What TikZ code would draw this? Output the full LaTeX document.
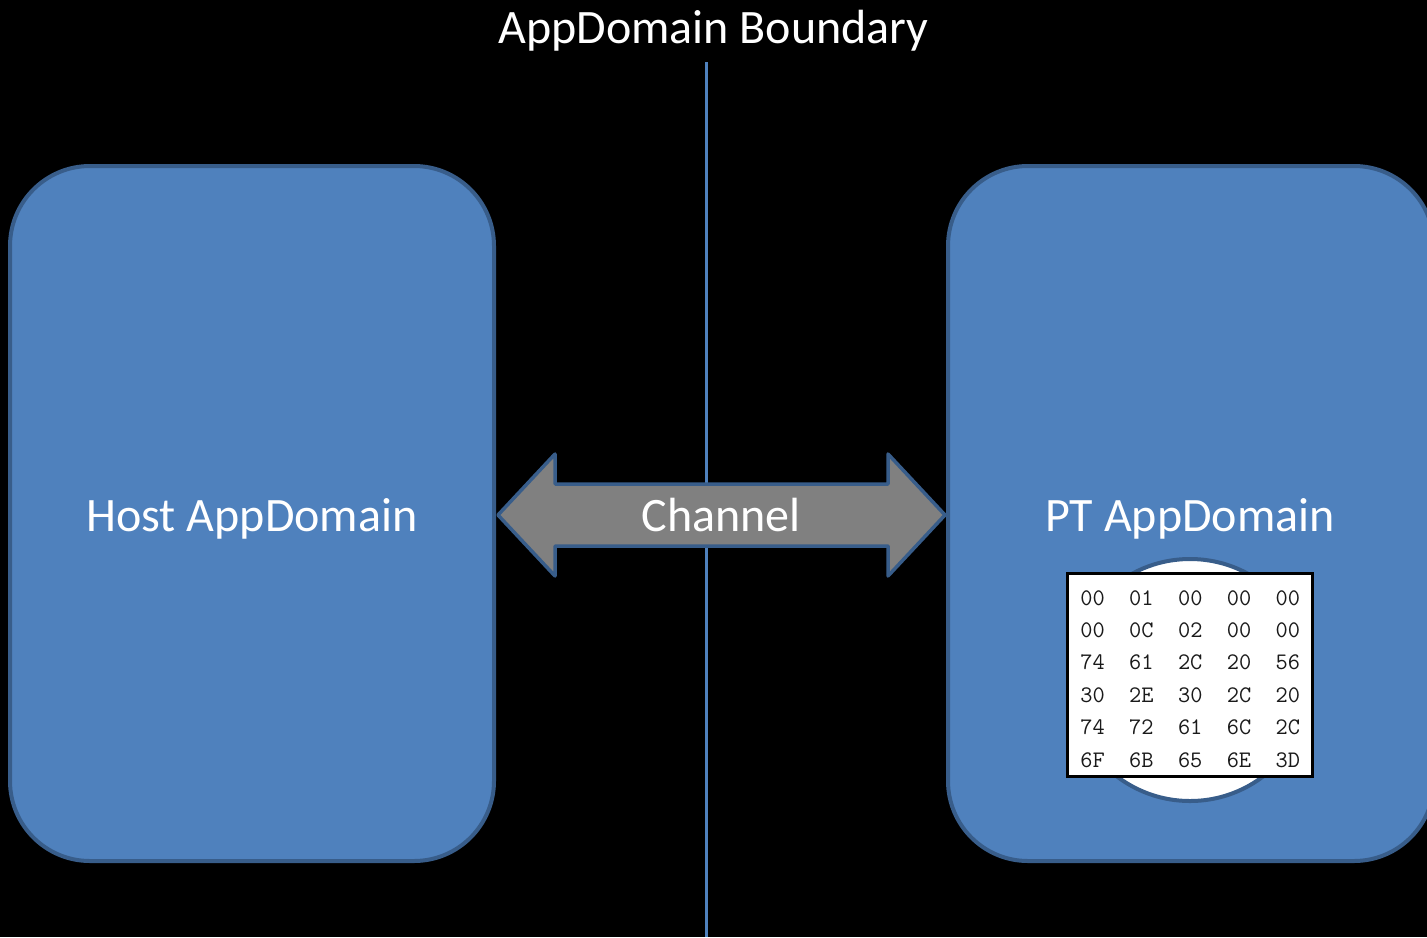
\documentclass[tikz,border=0pt]{standalone}
\usepackage{fontspec}
\setmainfont{Carlito}
\definecolor{boxblue}{HTML}{4F81BD}
\definecolor{boxedge}{HTML}{385D8A}
\definecolor{arrowgray}{HTML}{808080}
\definecolor{hexink}{HTML}{1A1A1A}
\begin{document}
\begin{tikzpicture}[x=0.5pt,y=-0.5pt,
  appdomain/.style={fill=boxblue,draw=boxedge,line width=2pt,rounded corners=40pt},
  biglabel/.style={text=white,font=\fontsize{24}{28}\selectfont,inner sep=0pt,anchor=base},
  hexrow/.style={text=hexink,font=\ttfamily\fontsize{11.85}{14}\selectfont,inner sep=0pt,anchor=base west},
  boundary/.style={draw=boxblue,line width=1.5pt},
  channelarrow/.style={fill=arrowgray,draw=boxedge,line width=1.75pt,line join=round}]
\useasboundingbox (0,0) rectangle (1427,937);
\fill[black] (0,0) rectangle (1427,937);
\clip (0,0) rectangle (1427,937);
% title and boundary
\node[biglabel] (title) at (713.5,43) {AppDomain Boundary};
\coordinate (btop) at (706,62);
\coordinate (bbot) at (706,937);
\draw[boundary] (btop) -- (bbot);
% domains
\draw[appdomain] (10,166) rectangle (494,861);
\node[biglabel] (host) at (252,531) {Host AppDomain};
\draw[appdomain] (948,166) rectangle (1434,861);
\node[biglabel] (pt) at (1190,531) {PT AppDomain};
% channel arrow
\draw[channelarrow] (498,515) -- (555,454) -- (555,484) -- (888,484) -- (888,454)
  -- (945,515) -- (888,576) -- (888,546) -- (555,546) -- (555,576) -- cycle;
\node[biglabel] (chan) at (721,531) {Channel};
% serialized data
\draw[fill=white,draw=boxedge,line width=2pt] (1190,680) circle[radius=121];
\draw[fill=white,draw=black,line width=1.5pt] (1067.5,573.5) rectangle (1312.5,776.5);
\node[hexrow] (r1) at (1080,605) {00~~01~~00~~00~~00};
\node[hexrow] (r2) at (1080,637.4) {00~~0C~~02~~00~~00};
\node[hexrow] (r3) at (1080,669.8) {74~~61~~2C~~20~~56};
\node[hexrow] (r4) at (1080,702.2) {30~~2E~~30~~2C~~20};
\node[hexrow] (r5) at (1080,734.6) {74~~72~~61~~6C~~2C};
\node[hexrow] (r6) at (1080,767) {6F~~6B~~65~~6E~~3D};
\end{tikzpicture}
\end{document}
